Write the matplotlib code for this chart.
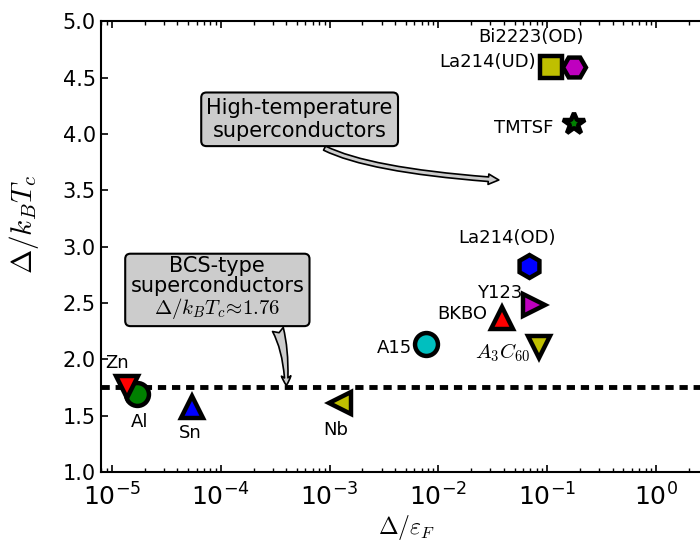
import matplotlib
matplotlib.use("Agg")
import matplotlib.pyplot as plt

plt.rcParams["mathtext.fontset"] = "cm"
plt.rcParams["font.family"] = ["DejaVu Sans"]

# materials: label, Delta/eF, Delta/kTc, marker, colour
names = ["Al", "Zn", "Sn", "Nb", "A15", "BKBO", "Y123", r"$A_3C_{60}$",
         "La214(OD)", "La214(UD)", "Bi2223(OD)", "TMTSF"]
x_vals = [1.7e-5, 1.37e-5, 5.4e-5, 1.25e-3, 7.7e-3, 0.038, 0.075, 0.083,
          0.068, 0.109, 0.177, 0.175]
y_vals = [1.69, 1.76, 1.58, 1.61, 2.14, 2.37, 2.48, 2.11,
          2.83, 4.59, 4.59, 4.09]
markers = ["o", "v", "^", "<", "o", "^", ">", "v", "h", "s", "H", "*"]
colors = ["g", "r", "b", "y", "c", "r", "m", "y", "b", "y", "m", "g"]

# label offsets (points) and alignment
offsets = [(2, -20), (-7, 17), (-1, -19), (-3, -19), (-10, -3), (-10, 3),
           (-8, 9), (-6, -4), (-16, 20), (-11, 4), (-31, 22), (-15, -3)]
aligns = ["center", "center", "center", "center", "right", "right",
          "right", "right", "center", "right", "center", "right"]

bcs_value = 1.76

fig = plt.figure(figsize=(7, 5.44), dpi=100)
ax = fig.add_axes([0.144, 0.132, 0.874, 0.829])

ax.axhline(bcs_value, color="k", lw=3.5, linestyle=(0, (1.7, 1.2)), zorder=1)

for i in range(len(names)):
    ax.plot(x_vals[i], y_vals[i], marker=markers[i], color=colors[i],
            markersize=16.5, markeredgecolor="k", markeredgewidth=3.2,
            linestyle="none", zorder=3 + i)
    ax.annotate(names[i], (x_vals[i], y_vals[i]), xytext=offsets[i],
                textcoords="offset points", ha=aligns[i], va="center",
                fontsize=13 if i != 7 else 15)

ax.annotate("High-temperature\nsuperconductors", xy=(0.038, 3.59),
            xytext=(5.3e-4, 4.13), ha="center", va="center", fontsize=15,
            bbox=dict(boxstyle="round,pad=0.25", fc="0.8", ec="k", lw=1.5),
            arrowprops=dict(arrowstyle="simple,head_width=0.5,head_length=0.5,tail_width=0.22",
                            fc="0.8", ec="k", lw=1.2,
                            connectionstyle="angle3,angleA=90,angleB=-4"))

ax.annotate("BCS-type\nsuperconductors\n" + r"$\Delta/k_BT_c\!\approx\!1.76$",
            xy=(4.0e-4, 1.77), xytext=(9.3e-5, 2.63), ha="center", va="center",
            fontsize=15, linespacing=1.0,
            bbox=dict(boxstyle="round,pad=0.25", fc="0.8", ec="k", lw=1.5),
            arrowprops=dict(arrowstyle="fancy,head_width=0.45,head_length=0.45,tail_width=0.55",
                            fc="0.8", ec="k", lw=1.2, shrinkB=0,
                            connectionstyle="angle3,angleA=0,angleB=90"))

ax.set_xscale("log")
ax.set_xlim(7.9e-6, 3.3)
ax.set_ylim(1, 5)
ax.set_yticks([1.0, 1.5, 2.0, 2.5, 3.0, 3.5, 4.0, 4.5, 5.0])
ax.set_xlabel(r"$\Delta/\varepsilon_F$", fontsize=17, labelpad=2)
ax.set_ylabel(r"$\Delta/k_BT_c$", fontsize=21)
ax.yaxis.set_label_coords(-0.097, 0.55)

ax.tick_params(axis="x", which="both", direction="in", top=True, labelsize=18, pad=8)
ax.tick_params(axis="y", which="both", direction="in", right=True, labelsize=15)
ax.tick_params(which="major", length=5, width=1.2)
ax.tick_params(which="minor", length=3, width=1)
for sp in ax.spines.values():
    sp.set_linewidth(1.5)

fig.savefig("out.png", dpi=100)
